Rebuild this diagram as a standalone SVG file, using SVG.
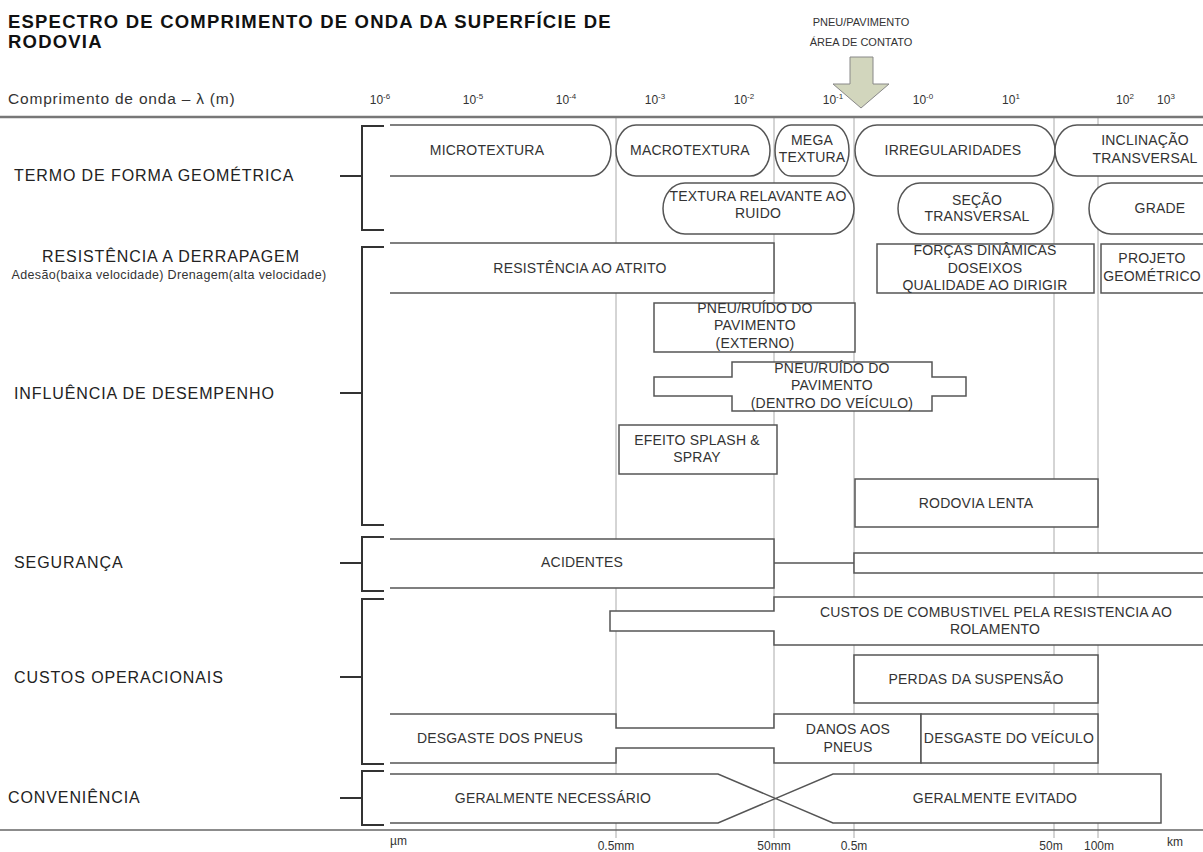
<svg xmlns="http://www.w3.org/2000/svg" width="1203" height="852" viewBox="0 0 1203 852">
<style>
.box{fill:#fff;stroke:#555;stroke-width:1.5}
.wf{fill:#fff;stroke:none}
.ln{fill:none;stroke:#555;stroke-width:1.5}
.grid{stroke:#aaa;stroke-width:1}
.br{fill:none;stroke:#333;stroke-width:2}
text{font-family:"Liberation Sans",Arial,sans-serif;fill:#333}
.bx{font-size:14px;text-anchor:middle;letter-spacing:0.2px}
.lab{font-size:16px;letter-spacing:0.9px;fill:#222}
.title{font-size:18.5px;font-weight:bold;letter-spacing:1.2px;fill:#111}
.tick{font-size:12px;text-anchor:middle}
.sup{font-size:8px}
.unit{font-size:12px;text-anchor:middle}
.arrowlab{font-size:11px;text-anchor:middle}
</style>
<rect width="1203" height="852" fill="#fff"/>

<g id="grid">
<line class="grid" x1="616" y1="117" x2="616" y2="838"/>
<line class="grid" x1="774" y1="117" x2="774" y2="838"/>
<line class="grid" x1="854" y1="117" x2="854" y2="838"/>
<line class="grid" x1="1054" y1="117" x2="1054" y2="838"/>
<line class="grid" x1="1098" y1="117" x2="1098" y2="838"/>
<line x1="0" y1="117" x2="1203" y2="117" stroke="#777" stroke-width="2.5"/>
<line x1="0" y1="830" x2="1203" y2="830" stroke="#666" stroke-width="1.5"/>
</g>

<g id="title">
<text class="title" x="8" y="28">ESPECTRO DE COMPRIMENTO DE ONDA DA SUPERFÍCIE DE</text>
<text class="title" x="8" y="48">RODOVIA</text>
</g>

<g id="axis">
<text x="8" y="104" font-size="15.5" letter-spacing="0.8">Comprimento de onda – λ (m)</text>
<text class="tick" x="380" y="104">10<tspan class="sup" dy="-5">-6</tspan></text>
<text class="tick" x="473" y="104">10<tspan class="sup" dy="-5">-5</tspan></text>
<text class="tick" x="566" y="104">10<tspan class="sup" dy="-5">-4</tspan></text>
<text class="tick" x="655" y="104">10<tspan class="sup" dy="-5">-3</tspan></text>
<text class="tick" x="744" y="104">10<tspan class="sup" dy="-5">-2</tspan></text>
<text class="tick" x="833" y="104">10<tspan class="sup" dy="-5">-1</tspan></text>
<text class="tick" x="923" y="104">10<tspan class="sup" dy="-5">-0</tspan></text>
<text class="tick" x="1011" y="104">10<tspan class="sup" dy="-5">1</tspan></text>
<text class="tick" x="1125" y="104">10<tspan class="sup" dy="-5">2</tspan></text>
<text class="tick" x="1166" y="104">10<tspan class="sup" dy="-5">3</tspan></text>
<text x="390" y="845" font-size="12">µm</text>
<text class="unit" x="616" y="850">0.5mm</text>
<text class="unit" x="774" y="850">50mm</text>
<text class="unit" x="854" y="850">0.5m</text>
<text class="unit" x="1051" y="850">50m</text>
<text class="unit" x="1099" y="850">100m</text>
<text x="1167" y="846" font-size="12">km</text>
</g>

<g id="contact-arrow">
<text class="arrowlab" x="861" y="26">PNEU/PAVIMENTO</text>
<text class="arrowlab" x="861" y="46">ÁREA DE CONTATO</text>
<polygon points="850,57 873,57 873,84 889,84 861,108 833,84 850,84" fill="#d2d6bd" stroke="#888" stroke-width="1"/>
</g>

<g id="labels">
<text class="lab" x="14" y="181">TERMO DE FORMA GEOMÉTRICA</text>
<text class="lab" x="171" y="262" text-anchor="middle">RESISTÊNCIA A DERRAPAGEM</text>
<text x="169" y="279" font-size="12.5" letter-spacing="0.35" text-anchor="middle">Adesão(baixa velocidade)   Drenagem(alta velocidade)</text>
<text class="lab" x="14" y="399">INFLUÊNCIA DE DESEMPENHO</text>
<text class="lab" x="14" y="568">SEGURANÇA</text>
<text class="lab" x="14" y="683">CUSTOS OPERACIONAIS</text>
<text class="lab" x="8" y="803">CONVENIÊNCIA</text>
</g>

<g id="connectors">
<path class="br" d="M340 176 H362 M384 126 H362 V230 H384"/>
<path class="br" d="M340 393 H362 M384 247 H362 V525 H384"/>
<path class="br" d="M340 563 H362 M384 537 H362 V591 H384"/>
<path class="br" d="M340 677 H362 M384 599 H362 V764 H384"/>
<path class="br" d="M340 798 H362 M384 771 H362 V825 H384"/>
<line class="ln" x1="774" y1="563" x2="854" y2="563"/>
</g>

<g id="microtextura">
<path class="box" d="M390 125 H591 A20 25.5 0 0 1 591 176 H390"/>
<text class="bx" x="487" y="155">MICROTEXTURA</text>
</g>
<g id="macrotextura">
<rect class="box" x="616" y="125" width="154" height="51" rx="20" ry="25.5"/>
<text class="bx" x="690" y="155">MACROTEXTURA</text>
</g>
<g id="megatextura">
<rect class="box" x="775" y="125" width="74" height="51" rx="16" ry="25.5"/>
<text class="bx" x="812" y="145">MEGA</text>
<text class="bx" x="812" y="162">TEXTURA</text>
</g>
<g id="irregularidades">
<rect class="box" x="855" y="125" width="200" height="51" rx="22" ry="25.5"/>
<text class="bx" x="953" y="155">IRREGULARIDADES</text>
</g>
<g id="inclinacao">
<rect class="box" x="1055" y="125" width="210" height="51" rx="22" ry="25.5"/>
<text class="bx" x="1145" y="145">INCLINAÇÃO</text>
<text class="bx" x="1145" y="163">TRANSVERSAL</text>
</g>

<g id="textura-ruido">
<rect class="box" x="663" y="183" width="191" height="51" rx="22" ry="25.5"/>
<text class="bx" x="758" y="201">TEXTURA RELAVANTE AO</text>
<text class="bx" x="758" y="218">RUIDO</text>
</g>
<g id="secao">
<rect class="box" x="898" y="183" width="155" height="51" rx="22" ry="25.5"/>
<text class="bx" x="977" y="205">SEÇÃO</text>
<text class="bx" x="977" y="221">TRANSVERSAL</text>
</g>
<g id="grade">
<rect class="box" x="1089" y="183" width="180" height="51" rx="22" ry="25.5"/>
<text class="bx" x="1160" y="213">GRADE</text>
</g>

<g id="atrito">
<path class="box" d="M390 243 H774 V293 H390"/>
<text class="bx" x="580" y="273">RESISTÊNCIA AO ATRITO</text>
</g>
<g id="forcas">
<rect class="box" x="877" y="244" width="217" height="49"/>
<text class="bx" x="985" y="255">FORÇAS DINÂMICAS</text>
<text class="bx" x="985" y="273">DOSEIXOS</text>
<text class="bx" x="985" y="290">QUALIDADE AO DIRIGIR</text>
</g>
<g id="projeto">
<rect class="box" x="1101" y="244" width="120" height="49"/>
<text class="bx" x="1152" y="263">PROJETO</text>
<text class="bx" x="1152" y="281">GEOMÉTRICO</text>
</g>

<g id="ruido-externo">
<rect class="box" x="654" y="303" width="201" height="49"/>
<text class="bx" x="755" y="313">PNEU/RUÍDO DO</text>
<text class="bx" x="755" y="330">PAVIMENTO</text>
<text class="bx" x="755" y="348">(EXTERNO)</text>
</g>
<g id="ruido-dentro">
<path class="box" d="M732 362 H932 V377 H966 V396 H932 V411 H732 V396 H654 V377 H732 Z"/>
<text class="bx" x="832" y="373">PNEU/RUÍDO DO</text>
<text class="bx" x="832" y="390">PAVIMENTO</text>
<text class="bx" x="832" y="408">(DENTRO DO VEÍCULO)</text>
</g>
<g id="splash">
<rect class="box" x="619" y="425" width="158" height="49"/>
<text class="bx" x="697" y="445">EFEITO SPLASH &amp;</text>
<text class="bx" x="697" y="462">SPRAY</text>
</g>
<g id="rodovia-lenta">
<rect class="box" x="855" y="479" width="243" height="48"/>
<text class="bx" x="976" y="508">RODOVIA LENTA</text>
</g>

<g id="acidentes">
<path class="box" d="M390 539 H774 V588 H390"/>
<text class="bx" x="582" y="567">ACIDENTES</text>
</g>
<g id="seguranca-direita">
<path class="box" d="M1210 553 H854 V573 H1210"/>
</g>

<g id="combustivel">
<path class="box" d="M1210 597 H774 V611 H610 V631 H774 V645 H1210"/>
<text class="bx" x="996" y="617">CUSTOS DE COMBUSTIVEL PELA RESISTENCIA AO</text>
<text class="bx" x="995" y="634">ROLAMENTO</text>
</g>
<g id="suspensao">
<rect class="box" x="854" y="655" width="244" height="48"/>
<text class="bx" x="976" y="684">PERDAS DA SUSPENSÃO</text>
</g>
<g id="desgaste-pneus">
<path class="box" d="M390 714 H616 V728 H774 V714 H921 V763 H774 V748 H616 V763 H390"/>
<text class="bx" x="500" y="743">DESGASTE DOS PNEUS</text>
</g>
<g id="danos-pneus">
<text class="bx" x="848" y="734">DANOS AOS</text>
<text class="bx" x="848" y="752">PNEUS</text>
</g>
<g id="desgaste-veiculo">
<rect class="box" x="921" y="714" width="177" height="49"/>
<text class="bx" x="1009" y="743">DESGASTE DO VEÍCULO</text>
</g>

<g id="conveniencia">
<polygon class="wf" points="390,774 718,774 775.5,798.5 718,823 390,823"/>
<polygon class="wf" points="1161,774 833,774 775.5,798.5 833,823 1161,823"/>
<path class="ln" d="M390 774 H718 L833 823 H1161 V774 H833 L718 823 H390"/>
<text class="bx" x="553" y="803">GERALMENTE NECESSÁRIO</text>
<text class="bx" x="995" y="803">GERALMENTE EVITADO</text>
</g>
</svg>
